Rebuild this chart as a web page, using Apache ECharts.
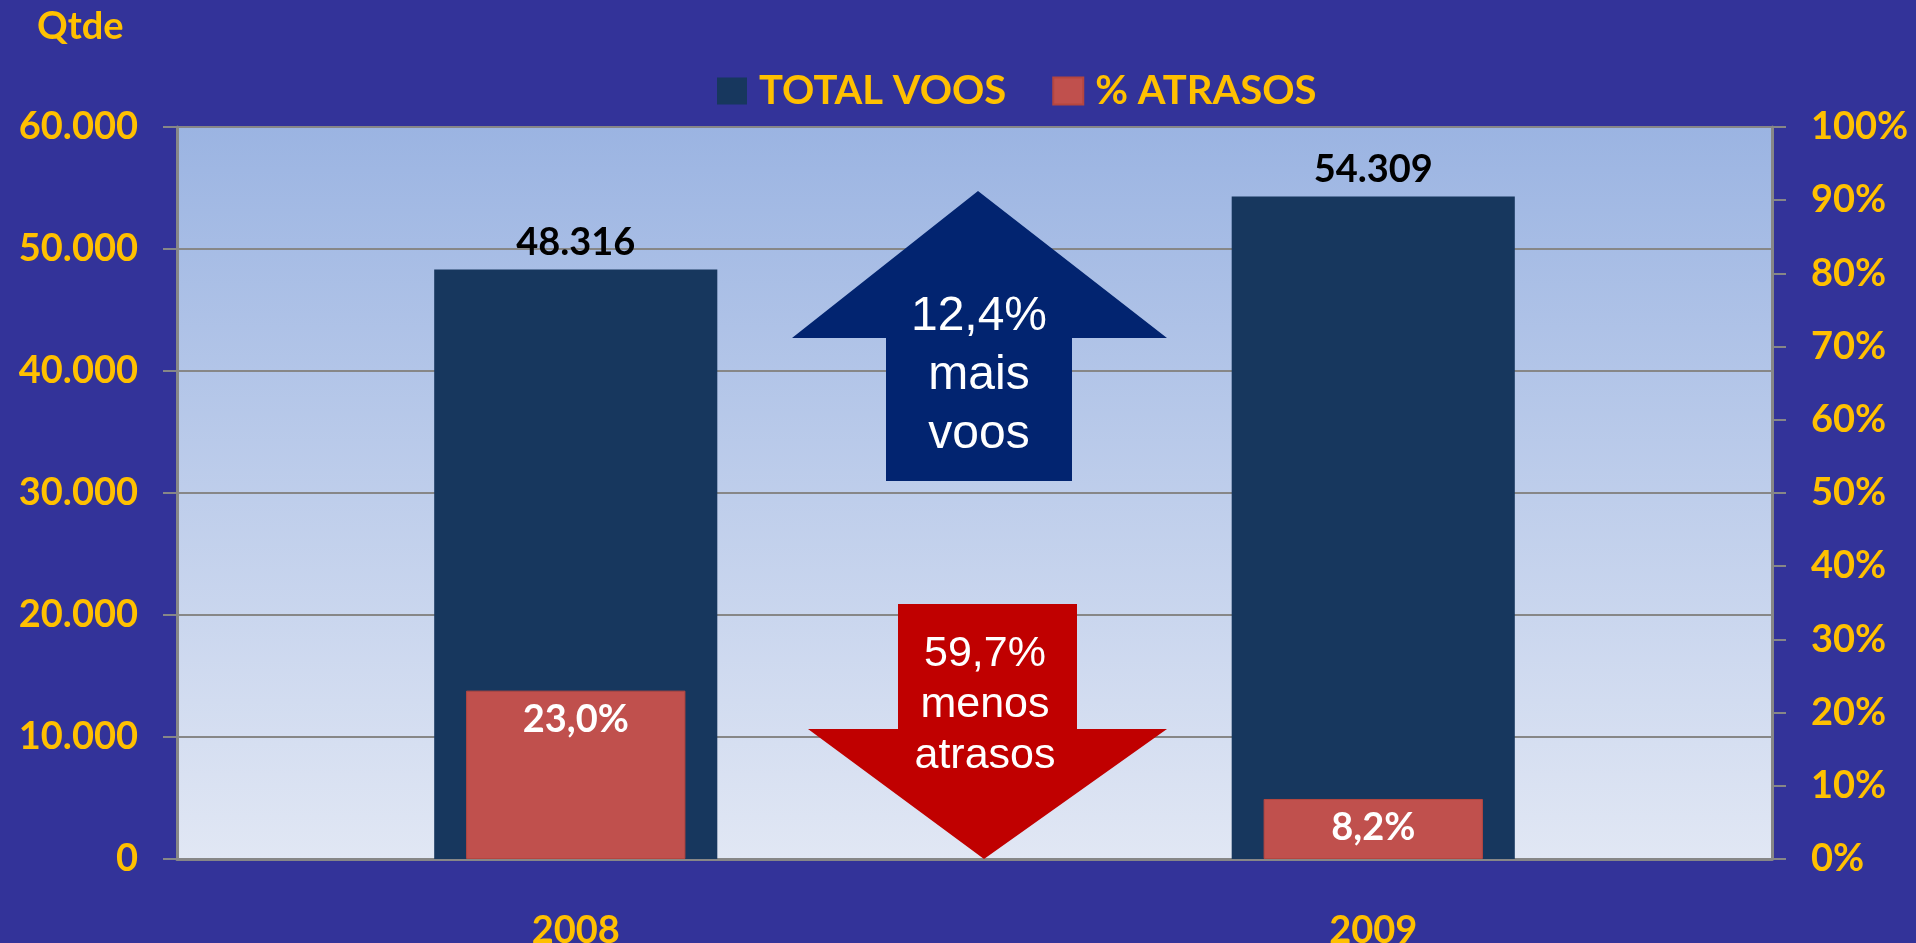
<!DOCTYPE html>
<html lang="pt">
<head>
    <meta charset="UTF-8">
    <script src="https://cdn.jsdelivr.net/npm/echarts@6/dist/echarts.min.js"></script>
    <title>Voos x Atrasos</title>
    <style>
        html, body { margin: 0; padding: 0; background: #333399; }
    </style>
</head>
<body>
<div id="main" style="width: 1916px;height:943px;"></div>
<script type="text/javascript">
    // dados
    var anos = ['2008', '2009'];
    var totalVoos = [48316, 54309];
    var pctAtrasos = [23.0, 8.2];
    var ticksQtde = [0, 10000, 20000, 30000, 40000, 50000, 60000];
    var ticksPct = [0, 10, 20, 30, 40, 50, 60, 70, 80, 90, 100];

    var amarelo = '#FFC000';
    var cinza = '#878787';
    var fonte = 'Lato';

    function milhar(v) {
        return String(v).replace(/\B(?=(\d{3})+(?!\d))/g, '.');
    }

    var myChart = echarts.init(document.getElementById('main'));

    var option = {
        backgroundColor: '#333399',
        textStyle: { fontFamily: fonte },
        animation: false,
        grid: {
            left: 177, right: 144, top: 127, bottom: 84,
            outerBoundsMode: 'none',
            containLabel: false,
            show: true,
            borderWidth: 0,
            backgroundColor: new echarts.graphic.LinearGradient(0, 0, 0, 1, [
                { offset: 0, color: '#9BB4E2' },
                { offset: 1, color: '#E1E7F4' }
            ])
        },
        legend: {
            left: 712, top: 66,
            itemWidth: 30, itemHeight: 27,
            itemGap: 46,
            icon: 'rect',
            textStyle: { color: amarelo, fontSize: 40, fontWeight: 'bold', fontFamily: fonte, padding: [0, 0, 0, 7] },
            data: ['TOTAL VOOS', '% ATRASOS']
        },
        graphic: [
            {
                type: 'text', left: 37, top: 8, z: 100,
                style: { text: 'Qtde', fill: amarelo, font: 'bold 38px ' + fonte }
            },
            {
                type: 'polygon', z: 100,
                shape: { points: [[978, 191], [1167, 338], [1072, 338], [1072, 481], [886, 481], [886, 338], [792, 338]] },
                style: { fill: '#022470' }
            },
            {
                type: 'text', x: 979, y: 376, z: 101,
                style: {
                    text: '12,4%\nmais\nvoos', fill: '#fff', font: '48px "Liberation Sans"',
                    lineHeight: 59, align: 'center', verticalAlign: 'middle'
                }
            },
            {
                type: 'polygon', z: 100,
                shape: { points: [[898, 604], [1077, 604], [1077, 729], [1167, 729], [984, 859], [808, 729], [898, 729]] },
                style: { fill: '#C00000' }
            },
            {
                type: 'text', x: 985, y: 705, z: 101,
                style: {
                    text: '59,7%\nmenos\natrasos', fill: '#fff', font: '43px "Liberation Sans"',
                    lineHeight: 51, align: 'center', verticalAlign: 'middle'
                }
            }
        ],
        xAxis: [
            {
                type: 'category',
                data: anos,
                axisLine: { lineStyle: { color: cinza, width: 3 } },
                axisTick: { length: 14, lineStyle: { color: cinza, width: 2 } },
                axisLabel: { color: amarelo, fontSize: 38, fontWeight: 'bold', margin: 53 }
            },
            {
                type: 'category',
                data: anos,
                show: false
            }
        ],
        yAxis: [
            {
                type: 'value',
                min: ticksQtde[0], max: ticksQtde[ticksQtde.length - 1], interval: 10000,
                axisLine: { show: true, lineStyle: { color: cinza, width: 3 } },
                axisTick: { show: true, length: 14, lineStyle: { color: cinza, width: 2 } },
                splitLine: { lineStyle: { color: cinza, width: 2 } },
                axisLabel: {
                    color: amarelo, fontSize: 38, fontWeight: 'bold', margin: 39,
                    formatter: function (v) { return milhar(v); }
                }
            },
            {
                type: 'value',
                min: ticksPct[0], max: ticksPct[ticksPct.length - 1], interval: 10,
                position: 'right',
                axisLine: { show: true, lineStyle: { color: cinza, width: 3 } },
                axisTick: { show: true, length: 14, lineStyle: { color: cinza, width: 2 } },
                splitLine: { show: false },
                axisLabel: { color: amarelo, fontSize: 38, fontWeight: 'bold', margin: 39, formatter: '{value}%' }
            }
        ],
        series: [
            {
                name: 'TOTAL VOOS',
                type: 'bar',
                data: totalVoos,
                barWidth: '35.5%',
                itemStyle: { color: '#17375E' },
                label: {
                    show: true, position: 'top', distance: 8,
                    color: '#000', fontSize: 38, fontWeight: 'bold',
                    formatter: function (p) { return milhar(p.value); }
                }
            },
            {
                name: '% ATRASOS',
                type: 'bar',
                xAxisIndex: 1,
                yAxisIndex: 1,
                data: pctAtrasos,
                barWidth: '27.5%',
                itemStyle: { color: '#C0504D', borderColor: '#B5463F', borderWidth: 1 },
                label: {
                    show: true, position: 'insideTop', distance: 10,
                    color: '#fff', fontSize: 38, fontWeight: 'bold',
                    formatter: function (p) { return p.value.toFixed(1).replace('.', ',') + '%'; }
                }
            }
        ]
    };

    myChart.setOption(option);
</script>
</body>
</html>
